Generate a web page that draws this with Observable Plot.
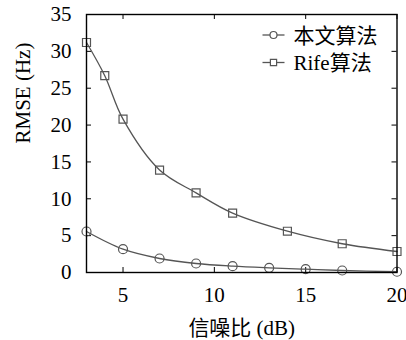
<!DOCTYPE html>
<html>
<head>
<meta charset="utf-8">
<script src="https://cdn.jsdelivr.net/npm/d3@7"></script>
<script src="https://cdn.jsdelivr.net/npm/@observablehq/plot@0.6"></script>
<style>
  body { margin: 0; background: #fff; }
  #chart svg { font-family: "Liberation Serif", "Noto Sans CJK SC", serif; }
</style>
</head>
<body>
<div id="chart"></div>
<script>
// RMSE of frequency estimate versus SNR for the two estimators
const snrOurs  = [3, 5, 7, 9, 11, 13, 15, 17, 20];
const rmseOurs = [5.56, 3.16, 1.9, 1.22, 0.86, 0.63, 0.45, 0.27, 0.1];
const snrRife  = [3, 4, 5, 7, 9, 11, 14, 17, 20];
const rmseRife = [31.2, 26.7, 20.8, 13.9, 10.8, 8.05, 5.6, 3.9, 2.85];
const seriesNames = ["本文算法", "Rife算法"];
const seriesSymbols = ["circle", "square"];
const xTicks = [5, 10, 15, 20];
const yTicks = [0, 5, 10, 15, 20, 25, 30, 35];
const xLabel = "信噪比 (dB)";
const yLabel = "RMSE (Hz)";

const rows = [
  ...snrOurs.map((s, i) => ({snr: s, rmse: rmseOurs[i], method: seriesNames[0]})),
  ...snrRife.map((s, i) => ({snr: s, rmse: rmseRife[i], method: seriesNames[1]}))
];

const W = 406, H = 340;
const mL = 86, mR = 9.5, mT = 14, mB = 68;
const pw = W - mL - mR, ph = H - mT - mB;
const ink = "#555";
const tickLen = 5;
const fs = 21;

// legend drawn inside the top-right corner of the frame
function legend(index, scales, values, dim) {
  const g = d3.create("svg:g").attr("text-anchor", "start");
  const x0 = dim.width - dim.marginRight - 134;
  seriesNames.forEach((name, i) => {
    const y = dim.marginTop + 21 + i * 27.5;
    const row = g.append("g").attr("transform", `translate(${x0},${y})`);
    row.append("line").attr("x1", 0).attr("x2", 22)
      .attr("stroke", ink).attr("stroke-width", 1.3);
    row.append("path")
      .attr("transform", "translate(11,0)")
      .attr("d", d3.symbol(seriesSymbols[i] === "circle" ? d3.symbolCircle : d3.symbolSquare, 3.5 * 3.5 * Math.PI)())
      .attr("fill", "white").attr("stroke", ink).attr("stroke-width", 1.2);
    row.append("text").attr("x", 31).attr("dy", "0.36em")
      .attr("font-size", fs).attr("fill", "black").text(name);
  });
  return g.node();
}

const chart = Plot.plot({
  width: W, height: H,
  marginLeft: mL, marginRight: mR, marginTop: mT, marginBottom: mB,
  style: {fontSize: `${fs}px`, color: "black", background: "white"},
  x: {domain: [3, 20]},
  y: {domain: [0, 35]},
  marks: [
    Plot.axisY({ticks: yTicks, tickSize: 0, tickPadding: 15, label: null, fontSize: fs}),
    Plot.axisX({ticks: xTicks, tickSize: 0, tickPadding: 15, label: null, fontSize: fs}),
    // axis titles
    Plot.text([xLabel], {frameAnchor: "bottom", dy: 55.5, lineAnchor: "middle", fontSize: fs, fill: "black"}),
    Plot.text([yLabel], {frameAnchor: "left", dx: -63, rotate: -90, lineAnchor: "middle", fontSize: fs, fill: "black"}),
    // inward ticks on all four sides
    Plot.tickY(yTicks, {y: d => d, insetRight: pw - tickLen, stroke: "black"}),
    Plot.tickY(yTicks, {y: d => d, insetLeft: pw - tickLen, stroke: "black"}),
    Plot.tickX(xTicks, {x: d => d, insetTop: ph - tickLen, stroke: "black"}),
    Plot.tickX(xTicks, {x: d => d, insetBottom: ph - tickLen, stroke: "black"}),
    Plot.line(rows, {x: "snr", y: "rmse", z: "method", curve: "catmull-rom", stroke: ink, strokeWidth: 1.3}),
    Plot.dot(rows, {x: "snr", y: "rmse", symbol: d => seriesSymbols[seriesNames.indexOf(d.method)], r: 4.5, stroke: ink, strokeWidth: 1.2, fill: "none"}),
    Plot.frame({stroke: "black", strokeWidth: 1.4}),
    legend
  ]
});
document.getElementById("chart").appendChild(chart);
</script>
</body>
</html>
